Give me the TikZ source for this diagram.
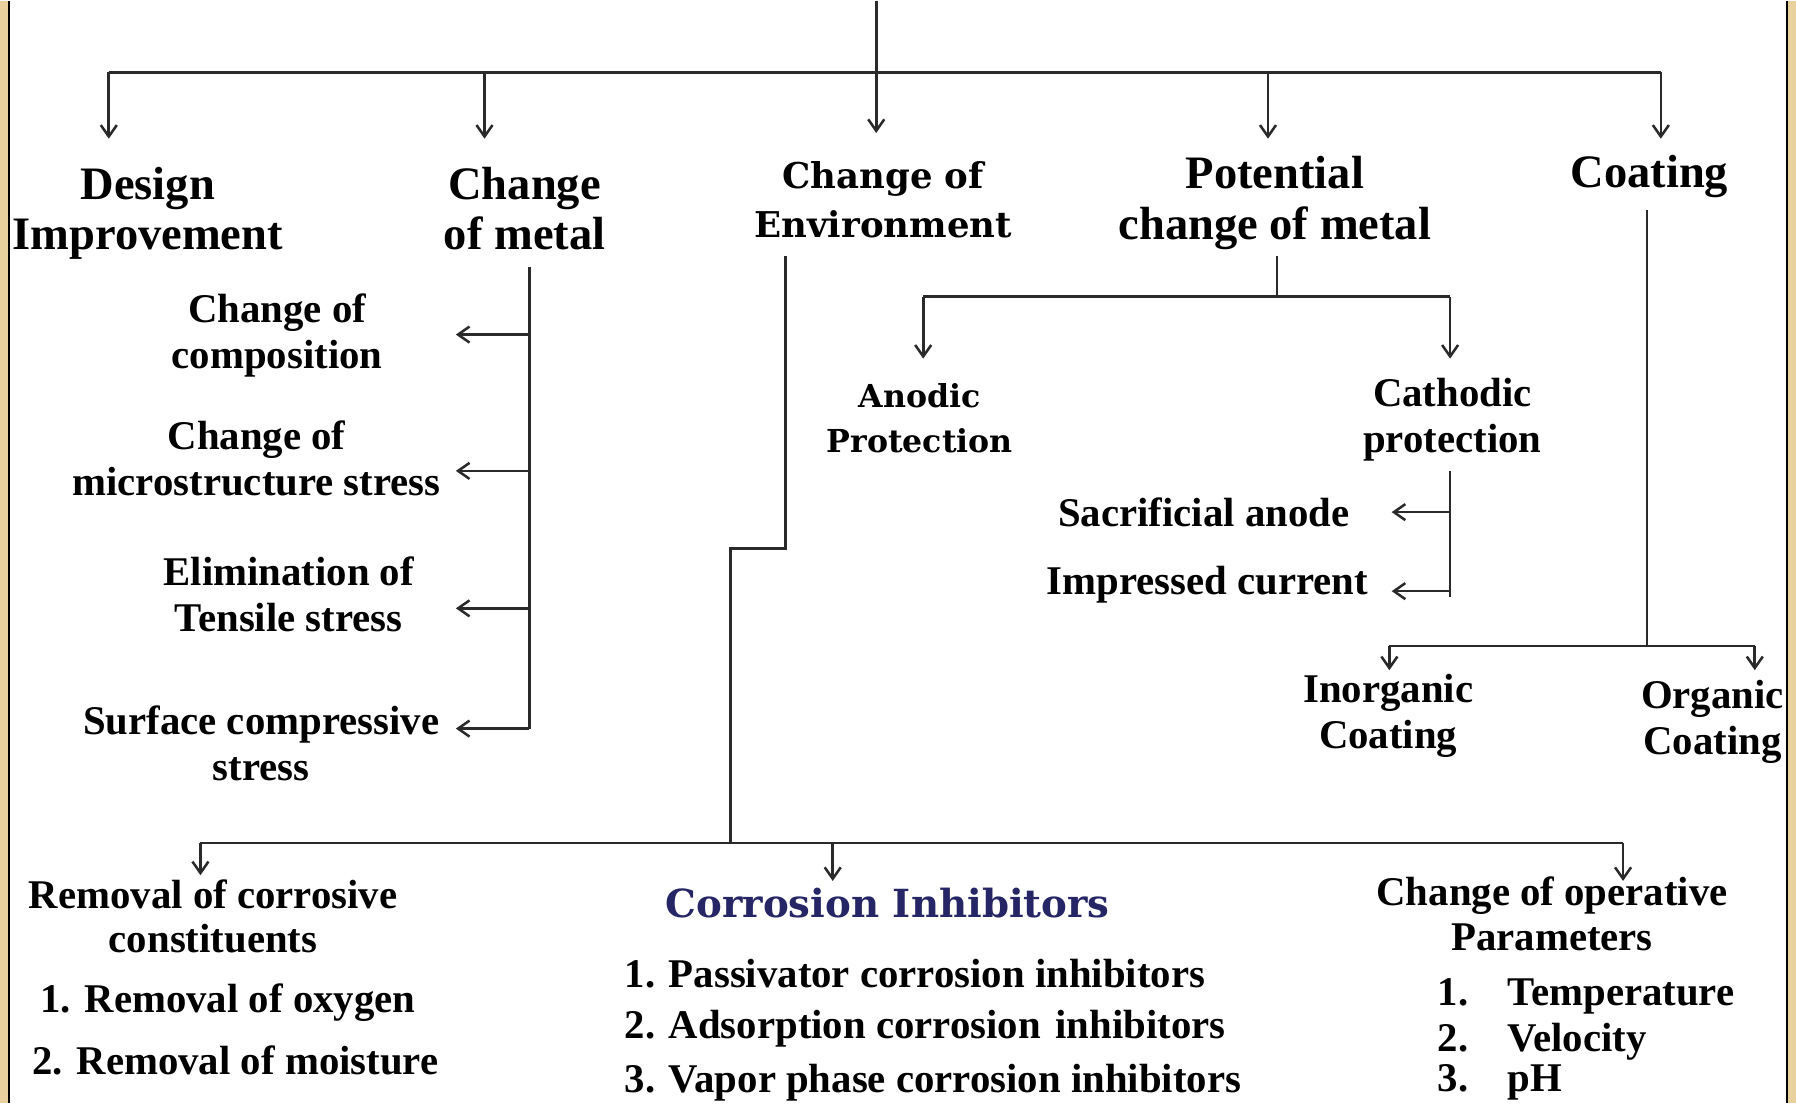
\documentclass[tikz,border=0pt]{standalone}
\usepackage{fontspec}
\setmainfont{Liberation Serif}
\newfontfamily\widefont{DejaVu Serif}
\usetikzlibrary{arrows.meta}
\definecolor{bordertan}{HTML}{E8D19C}
\definecolor{linegray}{HTML}{2A2A2A}
\definecolor{inhibnavy}{HTML}{262666}
\begin{document}
\begin{tikzpicture}[x=0.5pt,y=-0.5pt,
  ln/.style={draw=linegray,line width=1.15pt},
  arr/.style={ln,-{Straight Barb[length=5pt,width=7pt,line width=1.1pt]}},
  hA/.style={font=\fontsize{20.3}{22}\selectfont\bfseries,align=center,inner sep=0pt},
  hB/.style={font=\fontsize{17.8}{20}\selectfont\bfseries,align=center,inner sep=0pt},
  hC/.style={font=\fontsize{17.8}{19.5}\selectfont\bfseries,align=center,inner sep=0pt},
  wA/.style={font=\widefont\fontsize{15.5}{21.5}\selectfont\bfseries,align=center,inner sep=0pt},
  wB/.style={font=\widefont\fontsize{13.8}{19.5}\selectfont\bfseries,align=center,inner sep=0pt},
  wC/.style={font=\widefont\fontsize{16.9}{20}\selectfont\bfseries,text=inhibnavy,inner sep=0pt},
  li/.style={font=\fontsize{17.8}{20}\selectfont\bfseries,anchor=west,inner sep=0pt}
]
% background and border
\fill[white] (0,0) rectangle (1568,962);
\fill[bordertan] (0,0) rectangle (7,962);
\fill[bordertan] (1561,0) rectangle (1568,962);
\draw[black,line width=1.1pt] (8,0) -- (8,962);
\draw[black,line width=1.1pt] (1560,0) -- (1560,962);
\useasboundingbox (0,0) rectangle (1568,962);

% level 1 nodes
\node[hA] (design) at (129,185) {Design\\Improvement};
\node[hA] (metal) at (458,181) {Change\\of metal};
\node[wA] (env) at (771,173) {Change of\\Environment};
\node[hA] (pot) at (1113,176) {Potential\\change of metal};
\node[hA] (coat) at (1440,153) {Coating};

% change of metal children
\node[hB] (comp) at (242,292) {Change of\\composition};
\node[hB] (micro) at (224,399) {Change of\\microstructure stress};
\node[hB] (tens) at (252,518) {Elimination of\\Tensile stress};
\node[hB] (surf) at (228,648) {Surface compressive\\stress};

% potential change children
\node[wB] (anod) at (803,364) {Anodic\\Protection};
\node[hB] (cath) at (1268,365) {Cathodic\\protection};
\node[hB] (sacr) at (1051,446) {Sacrificial anode};
\node[hB] (impr) at (1054,509) {Impressed current};

% coating children
\node[hB] (inorg) at (1212,624) {Inorganic\\Coating};
\node[hB] (org) at (1495,629) {Organic\\Coating};

% environment children
\node[hC] (remov) at (186,799) {Removal of corrosive\\constituents};
\node[li] (r1) at (35,874) {1. Removal of oxygen};
\node[li] (r2) at (28,925) {2. Removal of moisture};
\node[wC] (inhib) at (775,787) {Corrosion Inhibitors};
\node[li] (i1) at (545,849) {1. Passivator corrosion inhibitors};
\node[li] (i2) at (545,897) {2. Adsorption corrosion\hspace{2pt} inhibitors};
\node[li] (i3) at (545,944) {3. Vapor phase corrosion inhibitors};
\node[hC] (oper) at (1355,797) {Change of operative\\Parameters};
\node[li] (p1) at (1255,869) {\makebox[30.5pt][l]{1.}Temperature};
\node[li] (p2) at (1255,908) {\makebox[30.5pt][l]{2.}Velocity};
\node[li] (p3) at (1255,944) {\makebox[30.5pt][l]{3.}pH};

% coordinates
\coordinate (top) at (765,0);
\coordinate (bL) at (95,62);
\coordinate (bM) at (423,62);
\coordinate (bP) at (1107,62);
\coordinate (bR) at (1450,62);
\coordinate (tD) at (95,120);
\coordinate (tM) at (423,120);
\coordinate (tE) at (765,115);
\coordinate (tP) at (1107,120);
\coordinate (tC) at (1450,120);

% top connectors
\draw[ln] (bL) -- (bR);
\draw[arr] (top) -- (tE);
\draw[arr] (bL) -- (tD);
\draw[arr] (bM) -- (tM);
\draw[arr] (bP) -- (tP);
\draw[arr] (bR) -- (tC);

% change of metal trunk
\coordinate (m0) at (462,232);
\coordinate (m1) at (462,291);
\coordinate (m2) at (462,410);
\coordinate (m3) at (462,530);
\coordinate (m4) at (462,635);
\coordinate (a1) at (398,291);
\coordinate (a2) at (398,410);
\coordinate (a3) at (398,530);
\coordinate (a4) at (398,635);
\draw[ln] (m0) -- (m4);
\draw[arr] (m1) -- (a1);
\draw[arr] (m2) -- (a2);
\draw[arr] (m3) -- (a3);
\draw[arr] (m4) -- (a4);

% environment
\coordinate (e0) at (686,222);
\coordinate (e1) at (686,478);
\coordinate (e2) at (638,478);
\coordinate (e3) at (638,735);
\coordinate (eL) at (175,735);
\coordinate (eM) at (727,735);
\coordinate (eR) at (1417,735);
\coordinate (fL) at (175,763);
\coordinate (fM) at (727,768);
\coordinate (fR) at (1417,768);
\draw[ln] (e0) -- (e1) -- (e2) -- (e3);
\draw[ln] (eL) -- (eR);
\draw[arr] (eL) -- (fL);
\draw[arr] (eM) -- (fM);
\draw[arr] (eR) -- (fR);

% potential change
\coordinate (p0) at (1115,222);
\coordinate (pJ) at (1115,258);
\coordinate (pL) at (806,258);
\coordinate (pR) at (1266,258);
\coordinate (qL) at (806,312);
\coordinate (qR) at (1266,312);
\draw[ln] (p0) -- (pJ);
\draw[ln] (pL) -- (pR);
\draw[arr] (pL) -- (qL);
\draw[arr] (pR) -- (qR);

% cathodic
\coordinate (c0) at (1266,410);
\coordinate (c1) at (1266,446);
\coordinate (c2) at (1266,520);
\coordinate (c2b) at (1266,515);
\coordinate (d1) at (1215,446);
\coordinate (d2) at (1215,515);
\draw[ln] (c0) -- (c2);
\draw[arr] (c1) -- (d1);
\draw[arr] (c2b) -- (d2);

% coating
\coordinate (k0) at (1438,182);
\coordinate (kJ) at (1438,563);
\coordinate (kL) at (1213,563);
\coordinate (kR) at (1532,563);
\coordinate (gL) at (1213,584);
\coordinate (gR) at (1532,584);
\draw[ln] (k0) -- (kJ);
\draw[ln] (kL) -- (kR);
\draw[arr] (kL) -- (gL);
\draw[arr] (kR) -- (gR);
\end{tikzpicture}
\end{document}
